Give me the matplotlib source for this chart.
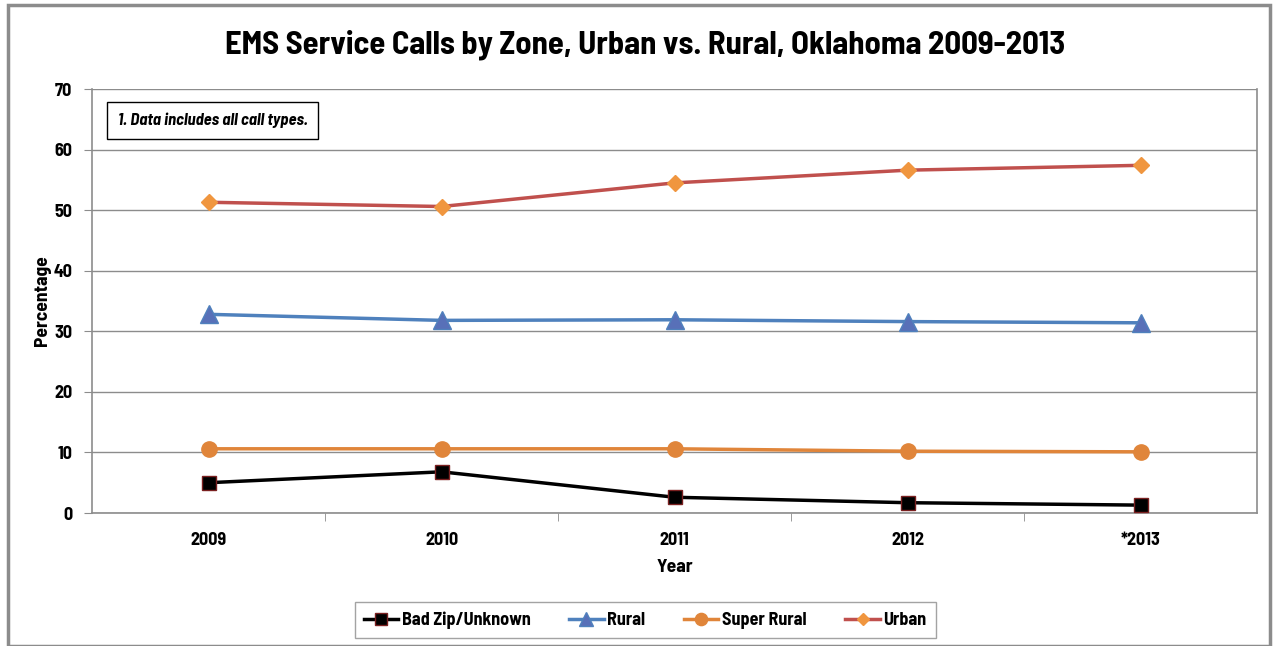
import matplotlib
matplotlib.use('Agg')
import matplotlib.pyplot as plt
from matplotlib.patches import Rectangle

years = ['2009', '2010', '2011', '2012', '*2013']
bad_zip = [5.0, 6.8, 2.6, 1.7, 1.3]
rural = [32.8, 31.8, 31.9, 31.6, 31.4]
super_rural = [10.6, 10.6, 10.6, 10.2, 10.1]
urban = [51.3, 50.6, 54.5, 56.6, 57.4]

font = ['Barlow Semi Condensed', 'DejaVu Sans']
plt.rcParams['font.family'] = font

fig = plt.figure(figsize=(12.75, 6.46), dpi=100)
ax = fig.add_axes([92 / 1275, 1 - 513 / 646, 1165 / 1275, 424 / 646])

# outer frame of the chart
fig.patches.append(Rectangle((8 / 1275, 0), 1262 / 1275, 641 / 646, transform=fig.transFigure,
                             fill=False, edgecolor='#8c8c8c', linewidth=2.5))

x = list(range(len(years)))
ax.plot(x, bad_zip, color='black', lw=2.5, marker='s', ms=10,
        mfc='black', mec='#7a2020', mew=1, label='Bad Zip/Unknown', zorder=3)
ax.plot(x, rural, color='#4F81BD', lw=2.5, marker='^', ms=13,
        mfc='#5870B8', mec='#4F81BD', mew=1, label='Rural', zorder=3)
ax.plot(x, super_rural, color='#E0853A', lw=2.5, marker='o', ms=11,
        mfc='#E0853A', mec='#E0853A', label='Super Rural', zorder=3)
ax.plot(x, urban, color='#C0504D', lw=2.5, marker='D', ms=8,
        mfc='#F0963F', mec='#F0963F', label='Urban', zorder=3)

ax.set_xlim(-0.5, len(years) - 0.5)
ax.set_ylim(0, 70)
ax.set_yticks(range(0, 71, 10))
ax.set_xticks(x)
ax.set_xticklabels(years)
ax.set_xticks([i + 0.5 for i in range(len(years) - 1)], minor=True)
ax.tick_params(axis='x', which='major', length=0, pad=14, labelsize=13)
ax.tick_params(axis='x', which='minor', length=6, color='#8c8c8c')
ax.tick_params(axis='y', length=6, color='#8c8c8c', labelsize=13, pad=8)
for lab in ax.get_xticklabels() + ax.get_yticklabels():
    lab.set_fontweight('bold')

ax.grid(axis='y', color='#8c8c8c', lw=1)
ax.set_axisbelow(True)
ax.spines['top'].set_visible(False)
for s in ['left', 'bottom', 'right']:
    ax.spines[s].set_color('#8c8c8c')
    ax.spines[s].set_linewidth(1.2)

ax.set_xlabel('Year', fontsize=14, fontweight='bold', labelpad=7)
ax.set_ylabel('Percentage', fontsize=14, fontweight='bold', labelpad=2)
fig.suptitle('EMS Service Calls by Zone, Urban vs. Rural, Oklahoma 2009-2013',
             x=0.506, y=0.955, fontsize=23.5, fontweight='bold')

ax.text(0.022, 0.926, '1. Data includes all call types.', transform=ax.transAxes,
        fontsize=12, fontweight='bold', style='italic', va='center', ha='left',
        bbox=dict(boxstyle='square,pad=0.65', fc='white', ec='black', lw=1))

fig.legend(loc='center', bbox_to_anchor=(0.506, 0.040), ncol=4,
           frameon=True, fancybox=False, edgecolor='#8c8c8c', handlelength=1.9,
           handletextpad=0.2, columnspacing=2.15, markerscale=0.8, borderpad=0.5,
           prop={'family': font, 'weight': 'bold', 'size': 13})

fig.savefig('out.png', dpi=100)
